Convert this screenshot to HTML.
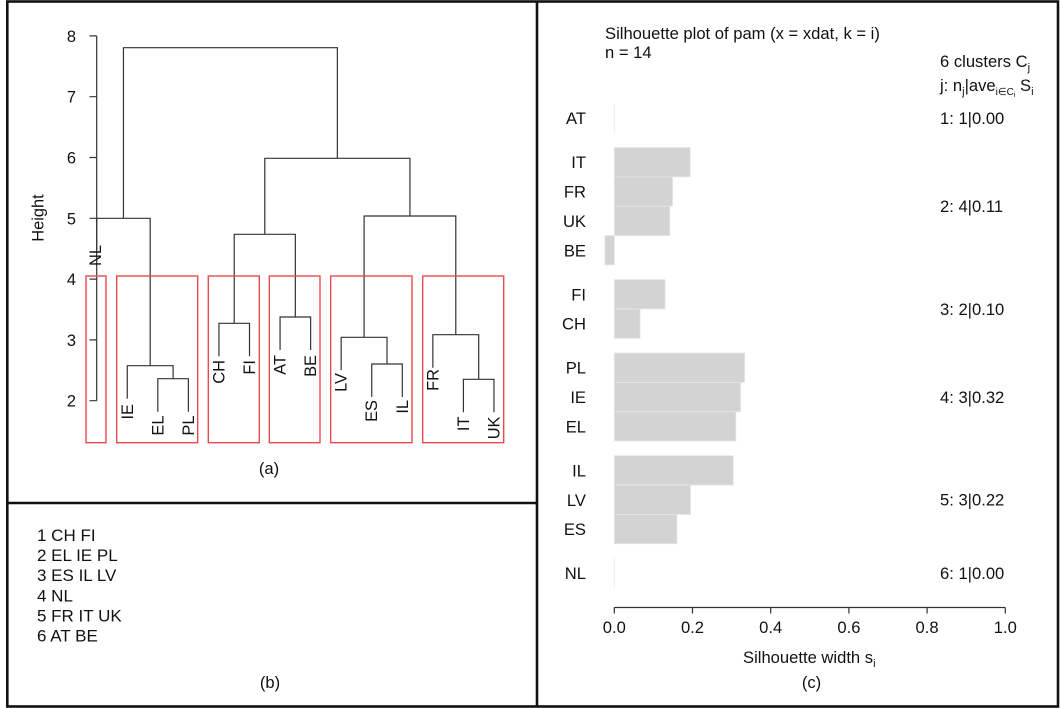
<!DOCTYPE html>
<html>
<head>
<meta charset="utf-8">
<style>
  html,body{margin:0;padding:0;background:#fff;}
  svg{display:block;}
  text{font-family:"Liberation Sans",Arial,sans-serif;fill:#111;}
</style>
</head>
<body>
<svg width="1060" height="708" viewBox="0 0 1060 708" xmlns="http://www.w3.org/2000/svg">
  <rect x="0" y="0" width="1060" height="708" fill="#fff"/>

  <!-- frames -->
  <g stroke="#111" stroke-width="2.6" fill="none">
    <rect x="7.3" y="1.5" width="1050.7" height="705"/>
    <line x1="537" y1="1.5" x2="537" y2="706.5"/>
    <line x1="7.3" y1="503" x2="537" y2="503"/>
  </g>

  <!-- ===== Panel (a): dendrogram ===== -->
  <g stroke="#333" stroke-width="1.2" fill="none">
    <!-- axis -->
    <path d="M96.7,35.9 V400.7"/>
    <path d="M89.5,35.9 H96.7 M89.5,96.7 H96.7 M89.5,157.5 H96.7 M89.5,218.3 H96.7 M89.5,279.1 H96.7 M89.5,339.9 H96.7 M89.5,400.7 H96.7"/>
    <!-- tree -->
    <path d="M123.45,218.3 V47.7 H337.36 V158.3"/>
    <path d="M96.7,250 V218.3 H150.18 V365.7"/>
    <path d="M127.26,398.7 V365.7 H173.1 V378.7"/>
    <path d="M157.82,411.7 V378.7 H188.38 V411.7"/>
    <path d="M264.78,234.3 V158.3 H409.94 V216"/>
    <path d="M234.22,323.3 V234.3 H295.34 V317"/>
    <path d="M218.94,356.3 V323.3 H249.5 V356.3"/>
    <path d="M280.06,350 V317 H310.62 V350"/>
    <path d="M364.1,337.3 V216 H455.78 V334.7"/>
    <path d="M341.18,370.3 V337.3 H387.02 V364"/>
    <path d="M371.74,397 V364 H402.3 V397"/>
    <path d="M432.86,367.7 V334.7 H478.7 V379.3"/>
    <path d="M463.42,412.3 V379.3 H493.98 V412.3"/>
  </g>

  <!-- red boxes -->
  <g stroke="#e84a4f" stroke-width="1.4" fill="none">
    <rect x="86" y="276" width="20" height="166.7"/>
    <rect x="116.7" y="276" width="81" height="166.7"/>
    <rect x="208.3" y="276" width="51" height="166.7"/>
    <rect x="269.3" y="276" width="50.7" height="166.7"/>
    <rect x="330.7" y="276" width="81.3" height="166.7"/>
    <rect x="422.7" y="276" width="81" height="166.7"/>
  </g>

  <!-- tick labels -->
  <g font-size="16.4" text-anchor="end">
    <text x="76" y="42">8</text>
    <text x="76" y="102.7">7</text>
    <text x="76" y="163.5">6</text>
    <text x="76" y="224.3">5</text>
    <text x="76" y="285.1">4</text>
    <text x="76" y="345.9">3</text>
    <text x="76" y="406.7">2</text>
  </g>
  <text font-size="16.4" text-anchor="middle" transform="translate(43.5,218) rotate(-90)">Height</text>

  <!-- leaf labels -->
  <g font-size="16.4" text-anchor="end">
    <text transform="translate(101,245) rotate(-90)">NL</text>
    <text transform="translate(132.8,404) rotate(-90)">IE</text>
    <text transform="translate(163.3,415.5) rotate(-90)">EL</text>
    <text transform="translate(193.9,415.5) rotate(-90)">PL</text>
    <text transform="translate(224.4,360) rotate(-90)">CH</text>
    <text transform="translate(255,360) rotate(-90)">FI</text>
    <text transform="translate(285.6,355) rotate(-90)">AT</text>
    <text transform="translate(316.1,355) rotate(-90)">BE</text>
    <text transform="translate(346.7,373) rotate(-90)">LV</text>
    <text transform="translate(377.2,400) rotate(-90)">ES</text>
    <text transform="translate(407.8,400) rotate(-90)">IL</text>
    <text transform="translate(438.4,369) rotate(-90)">FR</text>
    <text transform="translate(468.9,416.5) rotate(-90)">IT</text>
    <text transform="translate(499.5,416.5) rotate(-90)">UK</text>
  </g>

  <text x="269" y="474" font-size="16.6" text-anchor="middle">(a)</text>

  <!-- ===== Panel (b) ===== -->
  <g font-size="17">
    <text x="37" y="541">1 CH FI</text>
    <text x="37" y="561">2 EL IE PL</text>
    <text x="37" y="581">3 ES IL LV</text>
    <text x="37" y="601.5">4 NL</text>
    <text x="37" y="621.5">5 FR IT UK</text>
    <text x="37" y="641.5">6 AT BE</text>
  </g>
  <text x="270" y="688" font-size="16.6" text-anchor="middle">(b)</text>

  <!-- ===== Panel (c): silhouette ===== -->
  <g font-size="16.6">
    <text x="605" y="39">Silhouette plot of pam (x = xdat, k = i)</text>
    <text x="605" y="58">n = 14</text>
    <text x="940" y="67">6 clusters C<tspan dy="4" font-size="11">j</tspan></text>
    <text x="940" y="91">j: n<tspan dy="4" font-size="11">j</tspan><tspan dy="-4">|ave</tspan><tspan dy="4" font-size="10">i∈C</tspan><tspan dy="2" font-size="7">i</tspan><tspan dy="-6"> S</tspan><tspan dy="4" font-size="11">i</tspan></text>
  </g>

  <!-- bars -->
  <g fill="#d3d3d3" stroke="#e6e6e6" stroke-width="0.8">
    <!-- IT FR UK BE -->
    <rect x="614.3" y="147.5" width="75.9" height="29.35"/>
    <rect x="614.3" y="176.9" width="58.3" height="29.35"/>
    <rect x="614.3" y="206.2" width="55.5" height="29.35"/>
    <rect x="604.9" y="235.6" width="9.4" height="29.35"/>
    <!-- FI CH -->
    <rect x="614.3" y="279.6" width="50.8" height="29.35"/>
    <rect x="614.3" y="309" width="25.8" height="29.35"/>
    <!-- PL IE EL -->
    <rect x="614.3" y="353" width="130.3" height="29.35"/>
    <rect x="614.3" y="382.4" width="126.3" height="29.35"/>
    <rect x="614.3" y="411.7" width="121.6" height="29.35"/>
    <!-- IL LV ES -->
    <rect x="614.3" y="455.7" width="118.9" height="29.35"/>
    <rect x="614.3" y="485.1" width="76.2" height="29.35"/>
    <rect x="614.3" y="514.4" width="62.6" height="29.35"/>
  </g>
  <g stroke="#ececec" stroke-width="1">
    <line x1="614.3" y1="103.5" x2="614.3" y2="132.9"/>
    <line x1="614.3" y1="558.4" x2="614.3" y2="587.8"/>
  </g>

  <!-- bar labels -->
  <g font-size="16.6" text-anchor="end">
    <text x="586" y="124.2">AT</text>
    <text x="586" y="168.2">IT</text>
    <text x="586" y="197.6">FR</text>
    <text x="586" y="226.9">UK</text>
    <text x="586" y="256.3">BE</text>
    <text x="586" y="300.3">FI</text>
    <text x="586" y="329.7">CH</text>
    <text x="586" y="373.7">PL</text>
    <text x="586" y="403.1">IE</text>
    <text x="586" y="432.4">EL</text>
    <text x="586" y="476.4">IL</text>
    <text x="586" y="505.8">LV</text>
    <text x="586" y="535.1">ES</text>
    <text x="586" y="579.1">NL</text>
  </g>

  <!-- cluster summaries -->
  <g font-size="16.6">
    <text x="940" y="124.2">1: 1|0.00</text>
    <text x="940" y="212.2">2: 4|0.11</text>
    <text x="940" y="315">3: 2|0.10</text>
    <text x="940" y="403">4: 3|0.32</text>
    <text x="940" y="505.7">5: 3|0.22</text>
    <text x="940" y="579.1">6: 1|0.00</text>
  </g>

  <!-- x axis -->
  <g stroke="#333" stroke-width="1.2" fill="none">
    <path d="M614.3,607.5 H1005.3"/>
    <path d="M614.3,607.5 V613.5 M692.5,607.5 V613.5 M770.7,607.5 V613.5 M848.9,607.5 V613.5 M927.1,607.5 V613.5 M1005.3,607.5 V613.5"/>
  </g>
  <g font-size="16.6" text-anchor="middle">
    <text x="614.3" y="633">0.0</text>
    <text x="692.5" y="633">0.2</text>
    <text x="770.7" y="633">0.4</text>
    <text x="848.9" y="633">0.6</text>
    <text x="927.1" y="633">0.8</text>
    <text x="1005.3" y="633">1.0</text>
  </g>
  <text x="743" y="663" font-size="16.6">Silhouette width s<tspan dy="4" font-size="11">i</tspan></text>
  <text x="811.5" y="688" font-size="16.6" text-anchor="middle">(c)</text>
</svg>
</body>
</html>
